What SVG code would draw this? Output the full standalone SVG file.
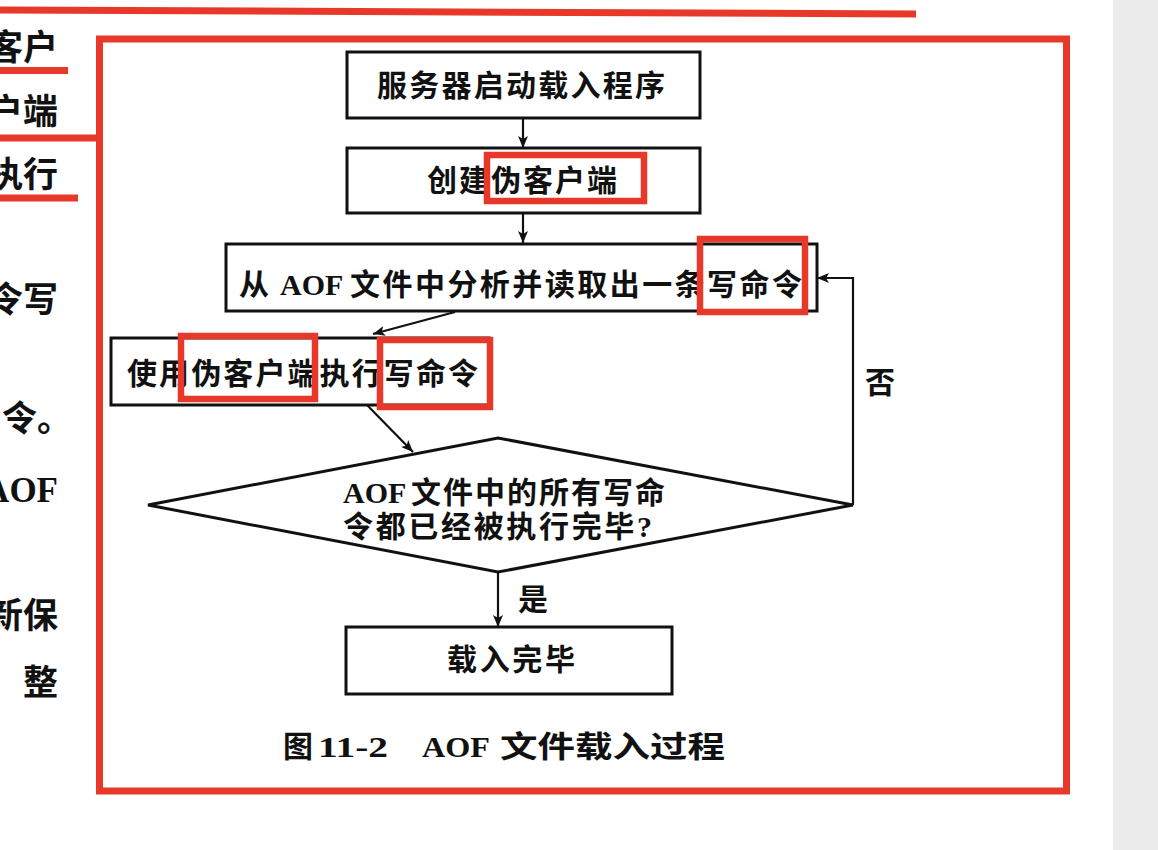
<svg xmlns="http://www.w3.org/2000/svg" width="1158" height="850" viewBox="0 0 1158 850">
<style>
.t{font-family:"Liberation Serif","Noto Sans CJK SC",serif;font-weight:bold;fill:#111}
.box{fill:#fff;stroke:#111;stroke-width:3}
.ln{fill:none;stroke:#111;stroke-width:2.2}
.hl{fill:none;stroke:#e8382a;stroke-width:6.5}
.red{fill:none;stroke:#e8382a;stroke-width:7}
</style>
<defs>
<marker id="ah" viewBox="0 0 12 10" refX="12" refY="5" markerWidth="12" markerHeight="10" markerUnits="userSpaceOnUse" orient="auto">
<path d="M0,0 L12,5 L0,10 L3,5 Z" fill="#111"/>
</marker>
</defs>
<rect x="0" y="0" width="1158" height="850" fill="#fff"/>
<rect x="1113" y="0" width="45" height="850" fill="#ebebeb"/>

<g id="page-text">
<text class="t" x="58" y="60" font-size="35" text-anchor="end">客户</text>
<text class="t" x="58" y="124" font-size="35" text-anchor="end">户端</text>
<text class="t" x="58" y="187" font-size="35" text-anchor="end">执行</text>
<text class="t" x="58" y="312" font-size="35" text-anchor="end">令写</text>
<text class="t" x="2" y="431" font-size="35">令。</text>
<text class="t" x="58" y="502" font-size="35" text-anchor="end">AOF</text>
<text class="t" x="58" y="628" font-size="35" text-anchor="end">新保</text>
<text class="t" x="58" y="695" font-size="35" text-anchor="end">整</text>
</g>

<g id="page-marks">
<path class="red" d="M0,10 L916,14"/>
<path class="red" d="M0,70.5 H68"/>
<path class="red" d="M0,138 H100"/>
<path class="red" d="M0,198 H78"/>
<rect class="red" x="99.5" y="39" width="967" height="752"/>
</g>

<g id="connectors">
<path class="ln" d="M523,118 V148" marker-end="url(#ah)"/>
<path class="ln" d="M523,213 V243" marker-end="url(#ah)"/>
<path class="ln" d="M455,312 L373,334" marker-end="url(#ah)"/>
<path class="ln" d="M367,405 L413,452" marker-end="url(#ah)"/>
<path class="ln" d="M498,572 V627" marker-end="url(#ah)"/>
<path class="ln" d="M853,505 V278 H817" marker-end="url(#ah)"/>
<text class="t" x="865" y="393" font-size="30">否</text>
<text class="t" x="518" y="610" font-size="30">是</text>
</g>

<g id="n1">
<rect class="box" x="347" y="52" width="353" height="66"/>
<text class="t" x="377" y="96" font-size="30" textLength="288">服务器启动载入程序</text>
</g>
<g id="n2">
<rect class="box" x="347" y="148" width="353" height="65"/>
<text class="t" x="427" y="191" font-size="30" textLength="190">创建伪客户端</text>
</g>
<g id="n3">
<rect class="box" x="226" y="244" width="591" height="67"/>
<text class="t" x="239" y="295" font-size="30">从</text>
<text class="t" x="280" y="295" font-size="30">AOF</text>
<text class="t" x="350" y="295" font-size="30" textLength="452">文件中分析并读取出一条写命令</text>
</g>
<g id="n4">
<rect class="box" x="111" y="338" width="378" height="67"/>
<text class="t" x="127" y="384" font-size="30" textLength="351">使用伪客户端执行写命令</text>
</g>
<g id="n5">
<polygon class="box" points="148,505 498,438 853,505 498,572"/>
<text class="t" x="343" y="503" font-size="30">AOF<tspan x="411" textLength="254">文件中的所有写命</tspan></text>
<text class="t" x="343" y="537" font-size="30" textLength="309">令都已经被执行完毕?</text>
</g>
<g id="n6">
<rect class="box" x="346" y="627" width="326" height="67"/>
<text class="t" x="447" y="670" font-size="30" textLength="128">载入完毕</text>
</g>

<g id="highlights">
<rect class="hl" x="487" y="155" width="157" height="46"/>
<rect class="hl" x="700" y="239" width="105" height="73"/>
<rect class="hl" x="181" y="336" width="134" height="63"/>
<rect class="hl" x="380" y="340" width="110" height="67"/>
</g>

<g id="caption">
<text class="t" x="283" y="757" font-size="30">图</text>
<text class="t" x="318" y="757" font-size="30" textLength="70" lengthAdjust="spacingAndGlyphs">11-2</text>
<text class="t" x="422" y="757" font-size="30" textLength="68" lengthAdjust="spacingAndGlyphs">AOF</text>
<text class="t" x="500" y="757" font-size="30" textLength="225" lengthAdjust="spacingAndGlyphs">文件载入过程</text>
</g>
</svg>
